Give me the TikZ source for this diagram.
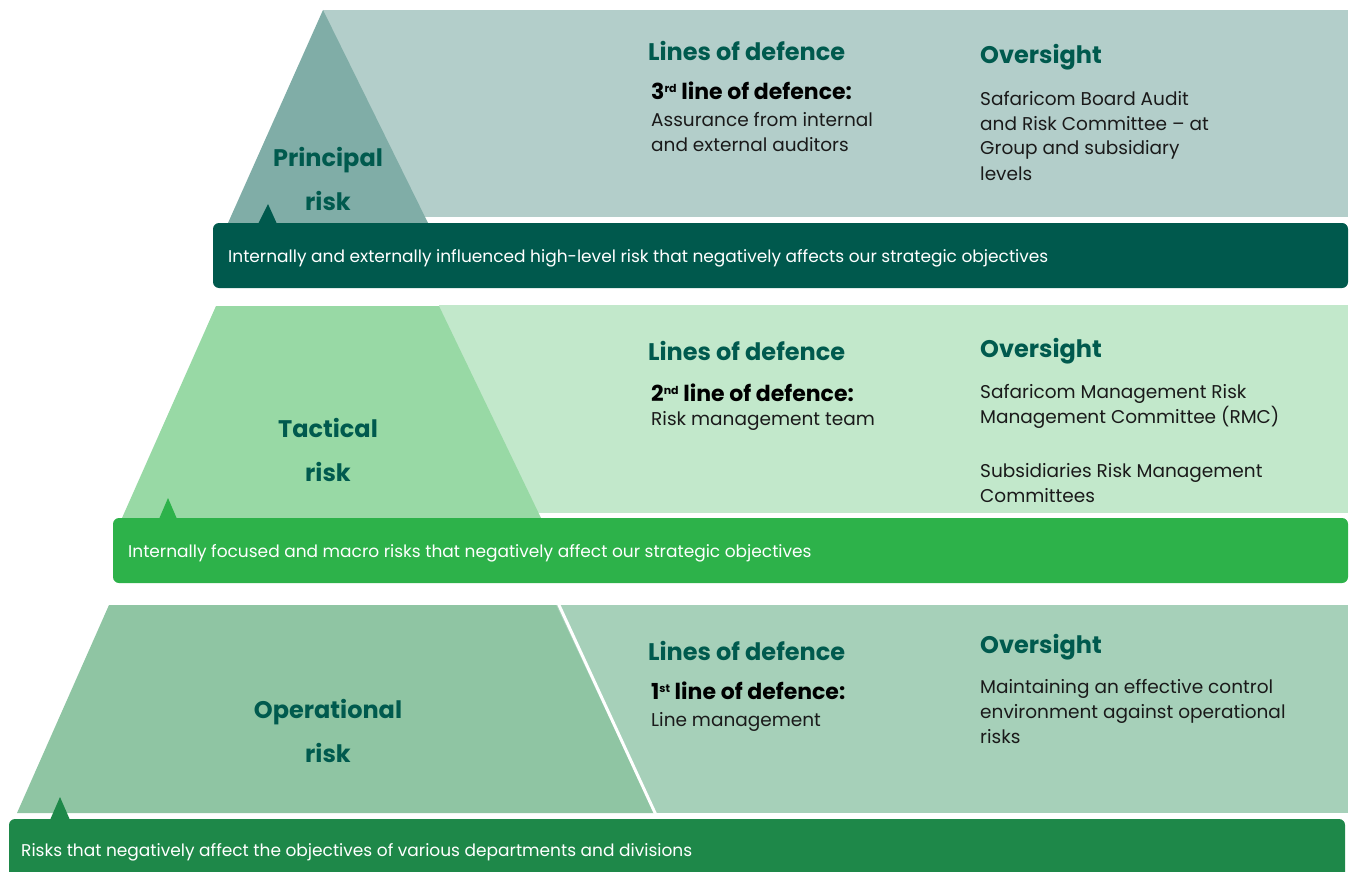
\documentclass[tikz,border=0pt]{standalone}
\usepackage{fontspec}
\setmainfont{Poppins}
\definecolor{r1}{HTML}{B3CECA}
\definecolor{t1}{HTML}{80ADA7}
\definecolor{b1}{HTML}{00594D}
\definecolor{r2}{HTML}{C2E8CB}
\definecolor{t2}{HTML}{98D9A5}
\definecolor{b2}{HTML}{2DB24A}
\definecolor{r3}{HTML}{A6D0B9}
\definecolor{t3}{HTML}{8FC5A3}
\definecolor{b3}{HTML}{1E8849}
\definecolor{heading}{HTML}{005A4E}
\definecolor{bodytext}{HTML}{1A1A1A}
\newcommand{\ordsup}[1]{\raisebox{7pt}{\fontsize{11}{12}\selectfont #1}}
\begin{document}
\begin{tikzpicture}[x=1pt,y=-1pt,
  head/.style={anchor=base west, inner sep=0pt, text=heading, font=\fontsize{24}{28}\selectfont\bfseries},
  lod/.style={anchor=base west, inner sep=0pt, text=black, font=\fontsize{22}{26}\selectfont\bfseries},
  body/.style={anchor=base west, inner sep=0pt, align=left, text=bodytext, font=\fontsize{18.5}{25}\selectfont},
  risk/.style={anchor=base, inner sep=0pt, align=center, text=heading, font=\fontsize{24}{44}\selectfont\bfseries},
  bartext/.style={anchor=base west, inner sep=0pt, text=white, font=\fontsize{17}{20}\selectfont},
  bar/.style={rounded corners=6pt}]
\useasboundingbox (0,0) rectangle (1352,872);
% ---- band 1
\fill[r1] (323,10) rectangle (1348,217);
\fill[t1] (323,10) -- (428,223) -- (228,223) -- cycle;
\fill[b1, bar] (213,223) rectangle (1348,288);
\fill[b1] (258,224) -- (268,204) -- (277,224) -- cycle;
% ---- band 2
\fill[r2] (439,305) rectangle (1348,513);
\fill[t2] (216,306) -- (439,306) -- (541,518) -- (122,518) -- cycle;
\fill[b2, bar] (113,518) rectangle (1348,583);
\fill[b2] (159,519) -- (168,498) -- (177,519) -- cycle;
% ---- band 3
\fill[r3] (556,605) rectangle (1348,813);
\fill[t3] (109,605) -- (556,605) -- (654,813) -- (17,813) -- cycle;
\draw[white, line width=3pt] (558,603) -- (656,815);
\begin{scope}
\clip (0,0) rectangle (1352,872);
\fill[b3, bar] (9,819) rectangle (1345,900);
\end{scope}
\fill[b3] (50,820) -- (60,797) -- (70,820) -- cycle;
% ---- texts band 1 (multi-line nodes: anchor on last baseline)
\node[risk] (r1l) at (328,210) {Principal\\risk};
\node[head] (h1a) at (648,61) {Lines of defence};
\node[lod] (l1) at (651,100) {3\ordsup{rd} line of defence:};
\node[body] (d1) at (651,152) {Assurance from internal\\and external auditors};
\node[head] (h1b) at (980,64) {Oversight};
\node[body] (o1) at (980,180) {Safaricom Board Audit\\and Risk Committee – at\\Group and subsidiary\\levels};
\node[bartext] (bt1) at (228,262) {Internally and externally influenced high-level risk that negatively affects our strategic objectives};
% ---- texts band 2
\node[risk] (r2l) at (328,481) {Tactical\\risk};
\node[head] (h2a) at (648,360) {Lines of defence};
\node[lod] (l2) at (651,401) {2\ordsup{nd} line of defence:};
\node[body] (d2) at (651,425) {Risk management team};
\node[head] (h2b) at (980,357) {Oversight};
\node[body] (o2a) at (980,423) {Safaricom Management Risk\\Management Committee (RMC)};
\node[body] (o2b) at (980,502) {Subsidiaries Risk Management\\Committees};
\node[bartext] (bt2) at (128,557) {Internally focused and macro risks that negatively affect our strategic objectives};
% ---- texts band 3
\node[risk] (r3l) at (328,762) {Operational\\risk};
\node[head] (h3a) at (648,660) {Lines of defence};
\node[lod] (l3) at (651,699) {1\ordsup{st} line of defence:};
\node[body] (d3) at (651,726) {Line management};
\node[head] (h3b) at (980,653) {Oversight};
\node[body] (o3) at (980,743) {Maintaining an effective control\\environment against operational\\risks};
\node[bartext] (bt3) at (21,856) {Risks that negatively affect the objectives of various departments and divisions};
\end{tikzpicture}
\end{document}
